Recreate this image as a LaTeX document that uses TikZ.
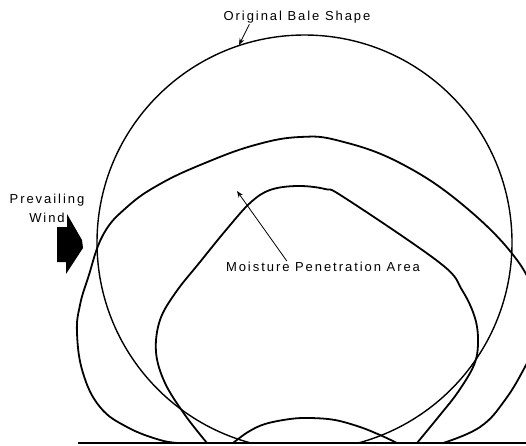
\documentclass[tikz,border=0pt]{standalone}
\usepackage{fontspec}
\newfontfamily\lblfont[LetterSpace=15]{Liberation Sans}
\usetikzlibrary{arrows.meta}

\begin{document}
\begin{tikzpicture}[x=1pt, y=-1pt, >=Stealth, lettering/.style={font=\lblfont\fontsize{13}{19}\selectfont, inner sep=1pt}, outline/.style={line width=1.8pt, line join=round}, pointer/.style={->, line width=0.8pt}]
\useasboundingbox (0,0) rectangle (526,445);
\begin{scope}
\clip (0,0) rectangle (526,443);
\draw[outline, line width=1.4pt] (304.5,242.5) circle[radius=207.5];
\draw[outline] plot[smooth, tension=0.7] coordinates {(180,443) (160,440) (127,427) (100,407) (83,373) (77,333) (80,305) (88,278) (103,235) (127,207) (160,184) (205,163) (255,145) (300,137) (340,141) (400,163) (463,205) (517,260) (537,305) (540,335) (526,365) (505,400) (480,427) (443,443)};
\end{scope}
\draw[outline] plot[smooth, tension=0.6] coordinates {(207,443) (185,415) (165,383) (156,352) (160,320) (176,292) (200,262) (226,230) (250,203) (270,190) (297,186) (325,189) (345,198) (440,263) (462,290) (475,318) (478,343) (474,365) (458,392) (440,415) (417,443)};
\draw[outline] plot[smooth, tension=0.6] coordinates {(233,443) (248,432) (265,424) (290,419) (310,418) (335,420) (360,427) (380,435) (397,443)};
\draw[line width=2.5pt] (78,443) -- (526,443);
\fill (57,227) -- (67,227) -- (67,214) -- (82,240) -- (83,248) -- (66,274) -- (66,262) -- (57,262) -- cycle;
\node[lettering] (bale) at (297,17) {Original Bale Shape};
\node[lettering, align=center] (wind) at (47,208) {Prevailing\\Wind};
\node[lettering] (moist) at (323,267) {Moisture Penetration Area};
\coordinate (balept) at (239,45);
\coordinate (moistpt) at (237,191);
\draw[pointer] ([xshift=27pt]bale.south west) -- (balept);
\draw[pointer] ([xshift=62pt]moist.north west) -- (moistpt);
\end{tikzpicture}
\end{document}
